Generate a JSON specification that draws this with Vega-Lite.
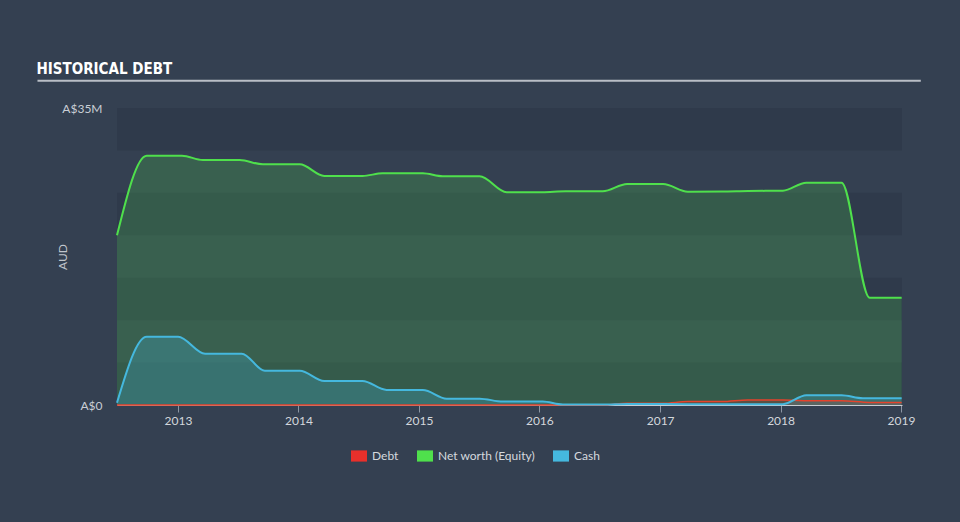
{
  "$schema": "https://vega.github.io/schema/vega-lite/v6.json",
  "width": 785,
  "height": 297,
  "autosize": {"type": "none"},
  "padding": {"left": 117, "top": 108, "right": 58, "bottom": 117},
  "background": "#344051",
  "title": {
    "text": "HISTORICAL DEBT",
    "anchor": "start",
    "frame": "bounds",
    "font": "DejaVu Sans Condensed",
    "fontSize": 15,
    "fontWeight": "bold",
    "color": "#ffffff",
    "offset": 3
  },
  "config": {
    "view": {"stroke": null},
    "font": "Lato",
    "axis": {"labelFont": "Lato", "titleFont": "Lato"},
    "legend": {"labelFont": "Lato"}
  },
  "datasets": {
    "main": [
      {"date": "2012-06-30", "series": "Net worth (Equity)", "value": 20.0},
      {"date": "2012-09-28", "series": "Net worth (Equity)", "value": 29.38},
      {"date": "2013-01-13", "series": "Net worth (Equity)", "value": 29.38},
      {"date": "2013-03-17", "series": "Net worth (Equity)", "value": 28.87},
      {"date": "2013-07-07", "series": "Net worth (Equity)", "value": 28.87},
      {"date": "2013-09-15", "series": "Net worth (Equity)", "value": 28.36},
      {"date": "2014-01-05", "series": "Net worth (Equity)", "value": 28.36},
      {"date": "2014-03-20", "series": "Net worth (Equity)", "value": 27.0},
      {"date": "2014-07-14", "series": "Net worth (Equity)", "value": 27.0},
      {"date": "2014-09-13", "series": "Net worth (Equity)", "value": 27.3},
      {"date": "2015-01-13", "series": "Net worth (Equity)", "value": 27.3},
      {"date": "2015-03-14", "series": "Net worth (Equity)", "value": 26.95},
      {"date": "2015-07-04", "series": "Net worth (Equity)", "value": 26.95},
      {"date": "2015-09-24", "series": "Net worth (Equity)", "value": 25.07},
      {"date": "2016-01-10", "series": "Net worth (Equity)", "value": 25.08},
      {"date": "2016-03-20", "series": "Net worth (Equity)", "value": 25.18},
      {"date": "2016-07-11", "series": "Net worth (Equity)", "value": 25.18},
      {"date": "2016-09-23", "series": "Net worth (Equity)", "value": 26.04},
      {"date": "2017-01-10", "series": "Net worth (Equity)", "value": 26.04},
      {"date": "2017-03-26", "series": "Net worth (Equity)", "value": 25.14},
      {"date": "2017-07-07", "series": "Net worth (Equity)", "value": 25.16},
      {"date": "2017-09-24", "series": "Net worth (Equity)", "value": 25.22},
      {"date": "2018-01-08", "series": "Net worth (Equity)", "value": 25.25},
      {"date": "2018-03-20", "series": "Net worth (Equity)", "value": 26.2},
      {"date": "2018-07-05", "series": "Net worth (Equity)", "value": 26.2},
      {"date": "2018-09-28", "series": "Net worth (Equity)", "value": 12.64},
      {"date": "2019-01-03", "series": "Net worth (Equity)", "value": 12.64},
      {"date": "2012-06-30", "series": "Cash", "value": 0.27},
      {"date": "2012-09-28", "series": "Cash", "value": 8.05},
      {"date": "2013-01-01", "series": "Cash", "value": 8.05},
      {"date": "2013-03-24", "series": "Cash", "value": 6.05},
      {"date": "2013-07-13", "series": "Cash", "value": 6.05},
      {"date": "2013-09-21", "series": "Cash", "value": 4.04},
      {"date": "2014-01-05", "series": "Cash", "value": 4.04},
      {"date": "2014-03-20", "series": "Cash", "value": 2.83},
      {"date": "2014-07-14", "series": "Cash", "value": 2.83},
      {"date": "2014-09-25", "series": "Cash", "value": 1.77},
      {"date": "2015-01-13", "series": "Cash", "value": 1.77},
      {"date": "2015-03-26", "series": "Cash", "value": 0.75},
      {"date": "2015-07-04", "series": "Cash", "value": 0.75},
      {"date": "2015-09-12", "series": "Cash", "value": 0.4},
      {"date": "2016-01-11", "series": "Cash", "value": 0.4},
      {"date": "2016-03-12", "series": "Cash", "value": 0.05},
      {"date": "2016-07-11", "series": "Cash", "value": 0.05},
      {"date": "2016-09-23", "series": "Cash", "value": 0.12},
      {"date": "2017-01-10", "series": "Cash", "value": 0.12},
      {"date": "2017-03-26", "series": "Cash", "value": 0.1},
      {"date": "2018-01-08", "series": "Cash", "value": 0.1},
      {"date": "2018-03-20", "series": "Cash", "value": 1.14},
      {"date": "2018-07-05", "series": "Cash", "value": 1.14},
      {"date": "2018-09-07", "series": "Cash", "value": 0.79},
      {"date": "2019-01-03", "series": "Cash", "value": 0.79},
      {"date": "2012-06-30", "series": "Debt", "value": 0},
      {"date": "2016-07-11", "series": "Debt", "value": 0},
      {"date": "2016-09-23", "series": "Debt", "value": 0.2},
      {"date": "2017-01-10", "series": "Debt", "value": 0.2},
      {"date": "2017-03-26", "series": "Debt", "value": 0.4},
      {"date": "2017-07-07", "series": "Debt", "value": 0.4},
      {"date": "2017-09-24", "series": "Debt", "value": 0.6},
      {"date": "2018-01-08", "series": "Debt", "value": 0.6},
      {"date": "2018-03-20", "series": "Debt", "value": 0.5},
      {"date": "2018-07-05", "series": "Debt", "value": 0.5},
      {"date": "2018-09-28", "series": "Debt", "value": 0.3},
      {"date": "2019-01-03", "series": "Debt", "value": 0.3}
    ],
    "bands": [
      {"lo": 0, "hi": 5},
      {"lo": 10, "hi": 15},
      {"lo": 20, "hi": 25},
      {"lo": 30, "hi": 35}
    ],
    "underline": [
      {"start": "2011-11-02", "end": "2019-03-02", "level": 38.2}
    ]
  },
  "layer": [
    {
      "data": {"name": "bands"},
      "mark": {"type": "rect", "color": "#2f3a4b"},
      "encoding": {
        "y": {"field": "lo", "type": "quantitative", "scale": {"domain": [0, 35], "nice": false, "zero": true},
          "axis": {
            "values": [0, 35],
            "labelExpr": "datum.value == 0 ? 'A$0' : 'A$' + datum.value + 'M'",
            "ticks": false,
            "domain": false,
            "grid": false,
            "labelFlush": false,
            "labelPadding": 15,
            "labelFontSize": 12,
            "labelColor": "#c9ced5",
            "title": "AUD",
            "titleColor": "#c0c5cc",
            "titleFontSize": 12,
            "titleFontWeight": "normal",
            "titleX": -48
          }
        },
        "y2": {"field": "hi"}
      }
    },
    {
      "data": {"name": "main"},
      "transform": [{"filter": "datum.series == 'Net worth (Equity)'"}],
      "mark": {"type": "area", "interpolate": "monotone", "opacity": 0.2},
      "encoding": {
        "x": {"field": "date", "type": "temporal",
          "scale": {"domain": [{"year": 2012, "month": 6, "date": 30}, {"year": 2019, "month": 1, "date": 4}], "nice": false},
          "axis": {
            "values": [
              {"year": 2013, "month": 1, "date": 1},
              {"year": 2014, "month": 1, "date": 1},
              {"year": 2015, "month": 1, "date": 1},
              {"year": 2016, "month": 1, "date": 1},
              {"year": 2017, "month": 1, "date": 1},
              {"year": 2018, "month": 1, "date": 1},
              {"year": 2019, "month": 1, "date": 1}
            ],
            "format": "%Y",
            "title": null,
            "grid": false,
            "domainColor": "#c7ccd3",
            "tickColor": "#8d96a3",
            "tickSize": 7,
            "labelColor": "#d3d7dc",
            "labelFontSize": 12,
            "labelPadding": 3,
            "labelFlush": false
          }
        },
        "y": {"field": "value", "type": "quantitative", "stack": null},
        "color": {"field": "series", "type": "nominal",
          "scale": {"domain": ["Debt", "Net worth (Equity)", "Cash"], "range": ["#e8302b", "#4fe04c", "#45b8de"]},
          "legend": {
            "title": null,
            "orient": "none",
            "direction": "horizontal",
            "legendX": 234,
            "legendY": 340,
            "symbolType": "M-1,-0.7H1V0.7H-1Z",
            "symbolSize": 256,
            "symbolOpacity": 1,
            "symbolStrokeWidth": 0,
            "labelFontSize": 12,
            "labelColor": "#d5d9de",
            "labelOffset": 5,
            "columnPadding": 18,
            "encode": {
              "symbols": {"update": {"opacity": {"value": 1}, "fillOpacity": {"value": 1}, "strokeOpacity": {"value": 0}}}
            }
          }
        }
      }
    },
    {
      "data": {"name": "main"},
      "transform": [{"filter": "datum.series == 'Cash'"}],
      "mark": {"type": "area", "interpolate": "monotone", "opacity": 0.25},
      "encoding": {
        "x": {"field": "date", "type": "temporal"},
        "y": {"field": "value", "type": "quantitative", "stack": null},
        "color": {"field": "series", "type": "nominal"}
      }
    },
    {
      "data": {"name": "main"},
      "transform": [{"filter": "datum.series == 'Debt'"}],
      "mark": {"type": "area", "interpolate": "monotone", "opacity": 0.2},
      "encoding": {
        "x": {"field": "date", "type": "temporal"},
        "y": {"field": "value", "type": "quantitative", "stack": null},
        "color": {"field": "series", "type": "nominal"}
      }
    },
    {
      "data": {"name": "main"},
      "transform": [{"filter": "datum.series == 'Net worth (Equity)'"}],
      "mark": {"type": "line", "interpolate": "monotone", "color": "#4fe04c", "strokeWidth": 2},
      "encoding": {
        "x": {"field": "date", "type": "temporal"},
        "y": {"field": "value", "type": "quantitative"}
      }
    },
    {
      "data": {"name": "main"},
      "transform": [{"filter": "datum.series == 'Debt'"}],
      "mark": {"type": "line", "interpolate": "monotone", "color": "#e5432c", "strokeWidth": 1.5},
      "encoding": {
        "x": {"field": "date", "type": "temporal"},
        "y": {"field": "value", "type": "quantitative"}
      }
    },
    {
      "data": {"name": "main"},
      "transform": [{"filter": "datum.series == 'Cash'"}],
      "mark": {"type": "line", "interpolate": "monotone", "color": "#45b8de", "strokeWidth": 2},
      "encoding": {
        "x": {"field": "date", "type": "temporal"},
        "y": {"field": "value", "type": "quantitative"}
      }
    },
    {
      "data": {"name": "underline"},
      "mark": {"type": "rule", "clip": false, "color": "#b9bec6", "strokeWidth": 2},
      "encoding": {
        "x": {"field": "start", "type": "temporal"},
        "x2": {"field": "end"},
        "y": {"field": "level", "type": "quantitative"}
      }
    }
  ]
}
